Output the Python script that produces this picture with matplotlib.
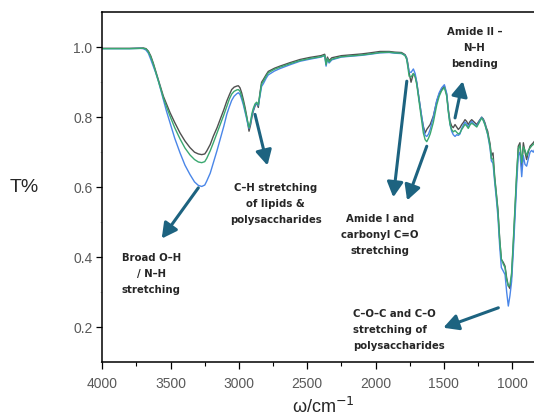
import matplotlib
matplotlib.use("Agg")
import matplotlib.pyplot as plt
from matplotlib.ticker import MultipleLocator

# wavenumbers (cm-1)
wn = [4000, 3900, 3800, 3720, 3700, 3680, 3663, 3645, 3627, 3610,
      3590, 3570, 3553, 3530, 3504, 3470, 3431, 3395, 3358, 3325,
      3297, 3272, 3250, 3236, 3210, 3187, 3160, 3138, 3110, 3089,
      3070, 3053, 3035, 3016, 3004, 2992, 2980, 2968, 2955, 2943,
      2935, 2926, 2914, 2905, 2895, 2882, 2870, 2858, 2846, 2834,
      2821, 2800, 2785, 2740, 2700, 2626, 2553, 2480, 2400, 2372,
      2362, 2352, 2340, 2320, 2250, 2163, 2100, 2040, 1967, 1900,
      1858, 1810, 1784, 1772, 1764, 1754, 1740, 1723, 1710, 1698,
      1686, 1674, 1662, 1650, 1637, 1625, 1612, 1600, 1577, 1552,
      1534, 1516, 1496, 1479, 1467, 1455, 1443, 1431, 1418, 1406,
      1394, 1382, 1369, 1357, 1345, 1333, 1321, 1308, 1296, 1278,
      1259, 1241, 1223, 1211, 1199, 1189, 1179, 1170, 1162, 1152,
      1140, 1128, 1116, 1104, 1091, 1079, 1065, 1052, 1040, 1028,
      1016, 1004, 991, 979, 967, 955, 943, 930, 918, 906,
      894, 882, 869, 857, 845, 830]

t_gray = [0.997, 0.997, 0.997, 0.998, 0.998, 0.996, 0.989, 0.975, 0.955, 0.933,
          0.908, 0.882, 0.860, 0.838, 0.813, 0.785, 0.755, 0.732, 0.713, 0.700,
          0.695, 0.693, 0.695, 0.703, 0.722, 0.746, 0.770, 0.793, 0.822, 0.846,
          0.864, 0.879, 0.886, 0.889, 0.890, 0.884, 0.870, 0.851, 0.828, 0.803,
          0.783, 0.760, 0.779, 0.800, 0.817, 0.832, 0.841, 0.828, 0.870, 0.900,
          0.908, 0.922, 0.931, 0.940, 0.946, 0.956, 0.965, 0.971, 0.976, 0.980,
          0.955, 0.972, 0.962, 0.970, 0.976, 0.979, 0.981, 0.984, 0.988, 0.988,
          0.986, 0.985, 0.979, 0.970, 0.955, 0.927, 0.900, 0.925, 0.918, 0.898,
          0.865, 0.831, 0.800, 0.774, 0.755, 0.765, 0.772, 0.779, 0.803, 0.846,
          0.866, 0.879, 0.889, 0.865, 0.822, 0.789, 0.775, 0.770, 0.779, 0.772,
          0.765, 0.770, 0.779, 0.785, 0.793, 0.788, 0.779, 0.788, 0.793, 0.786,
          0.779, 0.790, 0.800, 0.795, 0.784, 0.770, 0.760, 0.740, 0.725, 0.690,
          0.698, 0.631, 0.585, 0.536, 0.451, 0.393, 0.385, 0.374, 0.340, 0.318,
          0.310, 0.346, 0.441, 0.536, 0.631, 0.717, 0.727, 0.655, 0.727, 0.700,
          0.679, 0.700, 0.717, 0.722, 0.727, 0.735]

t_green = [0.996, 0.996, 0.996, 0.997, 0.997, 0.995, 0.987, 0.972, 0.952, 0.930,
           0.905, 0.878, 0.855, 0.830, 0.803, 0.770, 0.738, 0.712, 0.692, 0.679,
           0.672, 0.670, 0.673, 0.682, 0.704, 0.727, 0.755, 0.778, 0.807, 0.831,
           0.852, 0.866, 0.874, 0.878, 0.879, 0.874, 0.860, 0.843, 0.820, 0.798,
           0.785, 0.770, 0.790, 0.810, 0.825, 0.838, 0.843, 0.835, 0.865, 0.895,
           0.903, 0.918, 0.927, 0.937, 0.943, 0.953, 0.962, 0.968, 0.973, 0.977,
           0.950, 0.968, 0.958, 0.966, 0.973, 0.976, 0.978, 0.981, 0.985, 0.986,
           0.984, 0.983, 0.976, 0.965, 0.945, 0.917, 0.915, 0.925, 0.915, 0.893,
           0.858, 0.823, 0.788, 0.755, 0.736, 0.730, 0.740, 0.752, 0.785, 0.835,
           0.860, 0.876, 0.885, 0.860, 0.815, 0.780, 0.765, 0.758, 0.762, 0.757,
           0.752, 0.755, 0.765, 0.772, 0.780, 0.775, 0.768, 0.778, 0.783, 0.778,
           0.772, 0.785, 0.798, 0.790, 0.778, 0.765, 0.752, 0.735, 0.718, 0.682,
           0.680, 0.625, 0.580, 0.530, 0.448, 0.395, 0.380, 0.370, 0.335, 0.317,
           0.320, 0.355, 0.450, 0.545, 0.640, 0.710, 0.720, 0.670, 0.715, 0.705,
           0.690, 0.705, 0.712, 0.718, 0.722, 0.730]

t_blue = [0.996, 0.996, 0.996, 0.997, 0.996, 0.992, 0.983, 0.965, 0.946, 0.928,
          0.904, 0.875, 0.850, 0.817, 0.784, 0.740, 0.698, 0.663, 0.636, 0.615,
          0.605, 0.602, 0.606, 0.617, 0.640, 0.670, 0.705, 0.736, 0.775, 0.808,
          0.830, 0.848, 0.860, 0.867, 0.870, 0.865, 0.852, 0.836, 0.815, 0.795,
          0.780, 0.768, 0.785, 0.805, 0.820, 0.835, 0.840, 0.833, 0.860, 0.888,
          0.896, 0.912, 0.921, 0.932, 0.939, 0.950, 0.960, 0.966, 0.972, 0.976,
          0.946, 0.966, 0.955, 0.964, 0.972, 0.975, 0.977, 0.980, 0.984, 0.985,
          0.983, 0.982, 0.977, 0.968, 0.950, 0.930, 0.928, 0.938, 0.925, 0.900,
          0.865, 0.833, 0.800, 0.770, 0.748, 0.745, 0.752, 0.765, 0.800, 0.848,
          0.870, 0.884, 0.893, 0.868, 0.818, 0.780, 0.760, 0.750, 0.745, 0.750,
          0.748, 0.752, 0.768, 0.778, 0.786, 0.780, 0.772, 0.782, 0.788, 0.780,
          0.775, 0.788, 0.800, 0.792, 0.780, 0.765, 0.750, 0.730, 0.712, 0.675,
          0.668, 0.615, 0.568, 0.515, 0.430, 0.370, 0.360, 0.350, 0.300, 0.260,
          0.290, 0.330, 0.420, 0.515, 0.610, 0.690, 0.700, 0.630, 0.690, 0.665,
          0.660, 0.680, 0.700, 0.705, 0.700, 0.712]

# annotation texts: (label, text position, [(arrow tail, arrow head)]) in data coords
notes = [
    ("Broad O\u2013H\n/ N\u2013H\nstretching", (3643, 0.351), [((3297, 0.598), (3565, 0.453))]),
    ("C\u2013H stretching\nof lipids &\npolysaccharides", (2731, 0.553), [((2882, 0.808), (2791, 0.662))]),
    ("Amide II \u2013\nN\u2013H\nbending", (1277, 0.997), [((1418, 0.798), (1361, 0.903))]),
    ("Amide I and\ncarbonyl C=O\nstretching", (1967, 0.462),
     [((1771, 0.903), (1870, 0.571)), ((1625, 0.717), (1769, 0.562))]),
]
coc_text = "C\u2013O\u2013C and C\u2013O\nstretching of\npolysaccharides"

plt.rcParams['font.family'] = ['Liberation Sans', 'DejaVu Sans']

fig = plt.figure(figsize=(5.34, 4.17), dpi=100)
ax = fig.add_axes([102.3 / 534, 55 / 417, 431.7 / 534, 349.7 / 417])

ax.plot(wn, t_gray, color='#505050', lw=1.0)
ax.plot(wn, t_blue, color='#4a86e8', lw=1.0)
ax.plot(wn, t_green, color='#3aa870', lw=1.0)

ax.set_xlim(4000, 840)
ax.set_ylim(0.1, 1.1)
ax.xaxis.set_major_locator(MultipleLocator(500))
ax.xaxis.set_minor_locator(MultipleLocator(250))
ax.yaxis.set_minor_locator(MultipleLocator(0.1))
ax.set_yticks([0.2, 0.4, 0.6, 0.8, 1.0])
ax.yaxis.set_major_formatter(plt.FuncFormatter(lambda v, p: f"{v:.1f}"))

ax.spines['right'].set_visible(False)
for s in ['left', 'bottom', 'top']:
    ax.spines[s].set_linewidth(1.1)
ax.tick_params(axis='both', which='major', direction='out', labelsize=10,
               labelcolor='#595959', length=4, width=0.9)
ax.tick_params(axis='x', which='major', length=5, pad=6)
ax.tick_params(axis='x', which='minor', length=3, width=0.8)
ax.tick_params(axis='y', which='minor', length=1.5, width=0.5, color='#bbbbbb')
ax.tick_params(axis='y', which='major', pad=3)

fig.text(24 / 534, 1 - 187 / 417, 'T%', fontsize=14, color='#262626',
         ha='center', va='center')
fig.text(323 / 534, 1 - 407 / 417, '\u03c9/cm$^{-1}$', fontsize=13,
         color='#262626', ha='center', va='center')

arrow_color = '#1d6380'
aprops = dict(arrowstyle='-|>,head_length=0.75,head_width=0.4', lw=2.2,
              color=arrow_color, shrinkA=0, shrinkB=0, mutation_scale=12)
tprops = dict(fontsize=7.3, fontweight='bold', color='#262626', linespacing=1.75,
              family='DejaVu Sans')

for label, pos, arrows in notes:
    ax.text(pos[0], pos[1], label, ha='center', va='center', **tprops)
    for tail, head in arrows:
        ax.annotate('', xy=head, xytext=tail, arrowprops=aprops, annotation_clip=False)

ax.text(2167, 0.191, coc_text, ha='left', va='center', **tprops)
ax.annotate('', xy=(1504, 0.198), xytext=(1101, 0.255), arrowprops=aprops)

fig.savefig('out.png', dpi=100)
